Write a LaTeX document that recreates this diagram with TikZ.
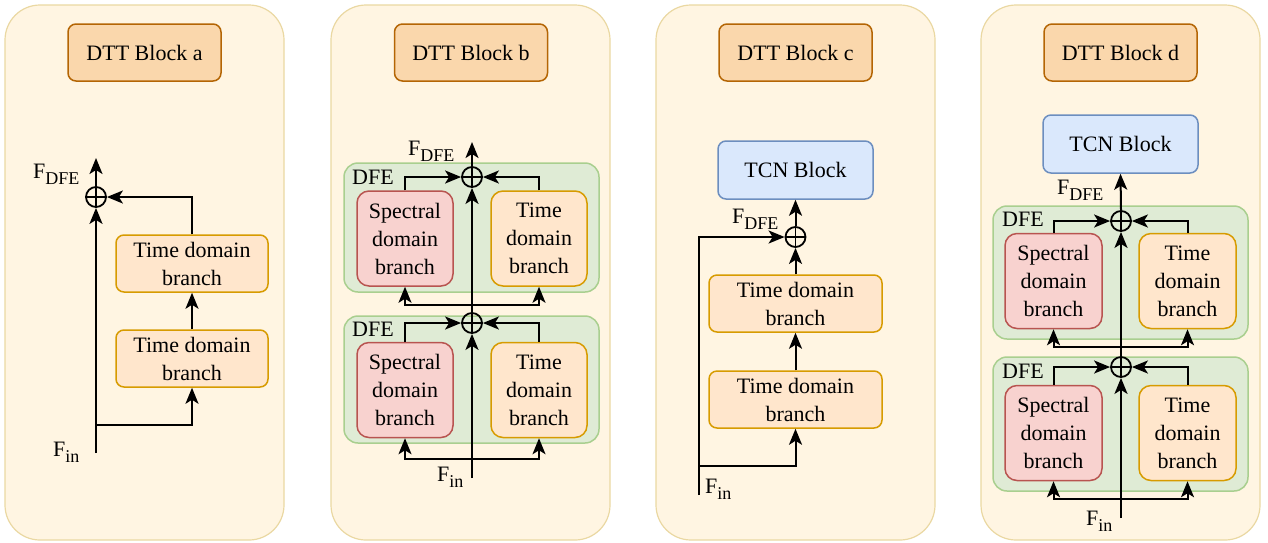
\documentclass[tikz,border=0pt]{standalone}
\usepackage{fontspec}
\setmainfont{LiberationSerif}[Extension=.ttf, UprightFont=*-Regular, BoldFont=*-Bold, ItalicFont=*-Italic]
\usetikzlibrary{arrows.meta}
\definecolor{panelfill}{HTML}{FFF5E2}
\definecolor{paneldraw}{HTML}{EAD8A2}
\definecolor{titlefill}{HTML}{FAD7AC}
\definecolor{titledraw}{HTML}{B46504}
\definecolor{dfefill}{HTML}{DFEBD5}
\definecolor{dfedraw}{HTML}{A9CF8F}
\definecolor{specfill}{HTML}{F8D2CF}
\definecolor{specdraw}{HTML}{B85450}
\definecolor{timefill}{HTML}{FFE6CC}
\definecolor{timedraw}{HTML}{D79B00}
\definecolor{tcnfill}{HTML}{DAE8FC}
\definecolor{tcndraw}{HTML}{6C8EBF}
\newcommand\myfs{\rmfamily\fontsize{22}{28}\selectfont}
\newcommand\Fsub[1]{F\raisebox{-6pt}{\fontsize{18}{18}\selectfont #1}}
\tikzset{
  panel/.style={draw=paneldraw, fill=panelfill, line width=1.2pt, rounded corners=35pt},
  titlebox/.style={draw=titledraw, fill=titlefill, line width=1.5pt, rounded corners=8pt,
    minimum width=153pt, minimum height=57pt, inner sep=0pt, font=\myfs},
  tcnbox/.style={draw=tcndraw, fill=tcnfill, line width=1.5pt, rounded corners=8pt,
    minimum width=155pt, minimum height=58pt, inner sep=0pt, font=\myfs},
  dfebox/.style={draw=dfedraw, fill=dfefill, line width=1.5pt, rounded corners=14pt,
    minimum width=255pt, inner sep=0pt},
  specbox/.style={draw=specdraw, fill=specfill, line width=1.5pt, rounded corners=12pt,
    minimum width=96pt, minimum height=95pt, inner sep=0pt, align=center, font=\myfs},
  timebox/.style={draw=timedraw, fill=timefill, line width=1.5pt, rounded corners=12pt,
    minimum width=96pt, minimum height=95pt, inner sep=0pt, align=center, font=\myfs},
  widebox/.style={draw=timedraw, fill=timefill, line width=1.5pt, rounded corners=8pt,
    minimum height=57pt, inner sep=0pt, align=center, font=\myfs},
  sumnode/.style={circle, draw, line width=1.8pt, minimum size=20pt, inner sep=0pt,
    path picture={\draw[line width=1.8pt] (path picture bounding box.north) -- (path picture bounding box.south)
      (path picture bounding box.west) -- (path picture bounding box.east);}},
  arr/.style={-{Stealth[length=16pt,width=13pt,inset=4pt]}, line width=2pt},
  lbl/.style={inner sep=0pt, font=\myfs},
}
\begin{document}
\begin{tikzpicture}[x=1pt,y=-1pt]
\useasboundingbox (0,0) rectangle (1268,542);
% panels
\draw[panel] (5,5) rectangle (284,540);
\draw[panel] (331,5) rectangle (610,540);
\draw[panel] (656,5) rectangle (935,540);
\draw[panel] (981,5) rectangle (1260,540);
% titles
\node[titlebox] (ta) at (144.5,52.5) {DTT Block a};
\node[titlebox] (tb) at (471,52.5) {DTT Block b};
\node[titlebox] (tc) at (795.5,52.5) {DTT Block c};
\node[titlebox] (td) at (1120.5,52.5) {DTT Block d};

% ===== panel a =====
\node[widebox, minimum width=152pt] (a1) at (192,263.5) {Time domain\\branch};
\node[widebox, minimum width=152pt] (a2) at (192,358.5) {Time domain\\branch};
\node[sumnode] (sa) at (96,197) {};
\coordinate (ina) at (96,453);
\coordinate (outa) at (96,158);
\coordinate (splita) at (96,425);
\draw[arr] (ina) -- (sa.south);
\draw[arr] (sa.north) -- (outa);
\draw[arr] (a1.north) |- (sa.east);
\draw[arr] (a2.north) -- (a1.south);
\draw[arr] (splita) -| (a2.south);
\node[lbl, anchor=base west] (fdfea) at (33,178) {\Fsub{DFE}};
\node[lbl, anchor=base west] (fina) at (53,456) {\Fsub{in}};

% ===== panel b =====
\node[dfebox, minimum height=129pt] (db1) at (471.5,227.5) {};
\node[dfebox, minimum height=127pt] (db2) at (471.5,379.5) {};
\node[lbl, anchor=base west] (ldb1) at (352,184) {DFE};
\node[lbl, anchor=base west] (ldb2) at (352,336) {DFE};
\node[specbox] (sb1) at (405,238.5) {Spectral\\domain\\branch};
\node[timebox] (tb1) at (539,238.5) {Time\\domain\\branch};
\node[specbox] (sb2) at (405,390) {Spectral\\domain\\branch};
\node[timebox] (tb2) at (539,390) {Time\\domain\\branch};
\node[sumnode] (pb1) at (472,177) {};
\node[sumnode] (pb2) at (472,323) {};
\coordinate (inb) at (472,478);
\coordinate (outb) at (472,142);
\coordinate (splitb1) at (472,305);
\coordinate (splitb2) at (472,459);
\draw[arr] (inb) -- (pb2.south);
\draw[arr] (pb2.north) -- (pb1.south);
\draw[arr] (pb1.north) -- (outb);
\draw[arr] (sb1.north) |- (pb1.west);
\draw[arr] (tb1.north) |- (pb1.east);
\draw[arr] (sb2.north) |- (pb2.west);
\draw[arr] (tb2.north) |- (pb2.east);
\draw[arr] (splitb1) -| (sb1.south);
\draw[arr] (splitb1) -| (tb1.south);
\draw[arr] (splitb2) -| (sb2.south);
\draw[arr] (splitb2) -| (tb2.south);
\node[lbl, anchor=base west] (fdfeb) at (408,155) {\Fsub{DFE}};
\node[lbl, anchor=base west] (finb) at (437,481) {\Fsub{in}};

% ===== panel c =====
\node[tcnbox] (tcnc) at (795.5,170) {TCN Block};
\node[widebox, minimum width=173pt] (c1) at (795.5,303.5) {Time domain\\branch};
\node[widebox, minimum width=173pt] (c2) at (795.5,399.5) {Time domain\\branch};
\node[sumnode] (sc) at (795.5,237) {};
\coordinate (inc) at (699,495);
\coordinate (splitc) at (699,466);
\draw[arr] (sc.north) -- (tcnc.south);
\draw[arr] (c1.north) -- (sc.south);
\draw[arr] (c2.north) -- (c1.south);
\draw[arr] (inc) |- (sc.west);
\draw[arr] (splitc) -| (c2.south);
\node[lbl, anchor=base west] (fdfec) at (732,223) {\Fsub{DFE}};
\node[lbl, anchor=base west] (finc) at (705,493) {\Fsub{in}};

% ===== panel d =====
\node[tcnbox] (tcnd) at (1120.5,144) {TCN Block};
\node[dfebox, minimum height=133pt] (dd1) at (1120.5,272.5) {};
\node[dfebox, minimum height=134pt] (dd2) at (1120.5,424) {};
\node[lbl, anchor=base west] (ldd1) at (1002,226) {DFE};
\node[lbl, anchor=base west] (ldd2) at (1002,378) {DFE};
\node[specbox, minimum width=97pt] (sd1) at (1053.5,281) {Spectral\\domain\\branch};
\node[timebox, minimum width=97pt] (td1) at (1187.5,281) {Time\\domain\\branch};
\node[specbox, minimum width=97pt] (sd2) at (1053.5,433) {Spectral\\domain\\branch};
\node[timebox, minimum width=97pt] (td2) at (1187.5,433) {Time\\domain\\branch};
\node[sumnode] (pd1) at (1121,221) {};
\node[sumnode] (pd2) at (1121,367) {};
\coordinate (ind) at (1121,518);
\coordinate (splitd1) at (1121,347);
\coordinate (splitd2) at (1121,499);
\draw[arr] (ind) -- (pd2.south);
\draw[arr] (pd2.north) -- (pd1.south);
\draw[arr] (pd1.north) -- (tcnd.south);
\draw[arr] (sd1.north) |- (pd1.west);
\draw[arr] (td1.north) |- (pd1.east);
\draw[arr] (sd2.north) |- (pd2.west);
\draw[arr] (td2.north) |- (pd2.east);
\draw[arr] (splitd1) -| (sd1.south);
\draw[arr] (splitd1) -| (td1.south);
\draw[arr] (splitd2) -| (sd2.south);
\draw[arr] (splitd2) -| (td2.south);
\node[lbl, anchor=base west] (fdfed) at (1057,194) {\Fsub{DFE}};
\node[lbl, anchor=base west] (find) at (1086,525) {\Fsub{in}};
\end{tikzpicture}
\end{document}
